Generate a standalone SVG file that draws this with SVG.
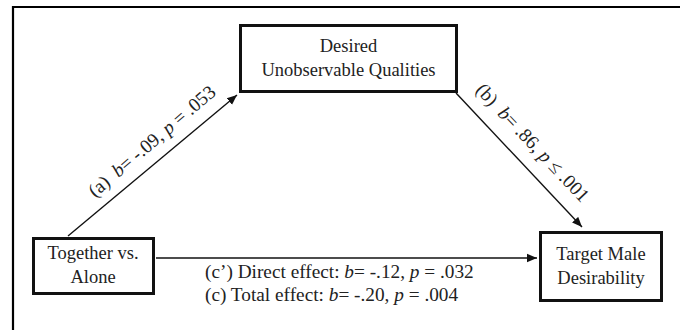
<svg xmlns="http://www.w3.org/2000/svg" width="680" height="330" viewBox="0 0 680 330">
<defs>
<style>
.box{fill:#fff;stroke:#111;stroke-width:3}
.t{font-family:"Liberation Serif","Times New Roman",serif;font-size:18.5px;fill:#222}
.l{font-size:19.3px}
.c{text-anchor:middle}
.edge{stroke:#111;stroke-width:1.4;fill:none}
</style>
<marker id="ah" viewBox="0 0 10 10" refX="10" refY="5" markerWidth="10" markerHeight="10" markerUnits="userSpaceOnUse" orient="auto">
<path d="M0,0.8 L10,5 L0,9.2 Z" fill="#111"/>
</marker>
</defs>
<rect width="680" height="330" fill="#fff"/>
<path d="M13,331 V7 H681" fill="none" stroke="#000" stroke-width="2.2"/>
<g id="connectors">
<line class="edge" x1="68" y1="236" x2="237" y2="95" marker-end="url(#ah)"/>
<line class="edge" x1="456" y1="93" x2="582" y2="227" marker-end="url(#ah)"/>
<line class="edge" x1="156" y1="258" x2="537" y2="258" marker-end="url(#ah)"/>
<text class="t l c" xml:space="preserve" transform="translate(156,146) rotate(-40.5)">(a)  <tspan font-style="italic">b</tspan>= -.09, <tspan font-style="italic">p</tspan> = .053</text>
<text class="t l c" xml:space="preserve" transform="translate(528,147) rotate(46.5)">(b)  <tspan font-style="italic">b</tspan>= .86, <tspan font-style="italic">p</tspan> ≤ .001</text>
<text class="t l" x="205" y="278">(c’) Direct effect: <tspan font-style="italic">b</tspan>= -.12, <tspan font-style="italic">p</tspan> = .032</text>
<text class="t l" x="205" y="301">(c) Total effect: <tspan font-style="italic">b</tspan>= -.20, <tspan font-style="italic">p</tspan> = .004</text>
</g>
<g id="mediator">
<rect class="box" x="240.5" y="25.5" width="216" height="66"/>
<text class="t c" x="348.5" y="52">Desired</text>
<text class="t c" x="348.5" y="76">Unobservable Qualities</text>
</g>
<g id="predictor">
<rect class="box" x="33.5" y="238.5" width="120" height="55"/>
<text class="t c" x="93" y="259">Together vs.</text>
<text class="t c" x="93" y="283">Alone</text>
</g>
<g id="outcome">
<rect class="box" x="540.5" y="232.5" width="121" height="68"/>
<text class="t c" x="601" y="260">Target Male</text>
<text class="t c" x="601" y="284">Desirability</text>
</g>
</svg>
